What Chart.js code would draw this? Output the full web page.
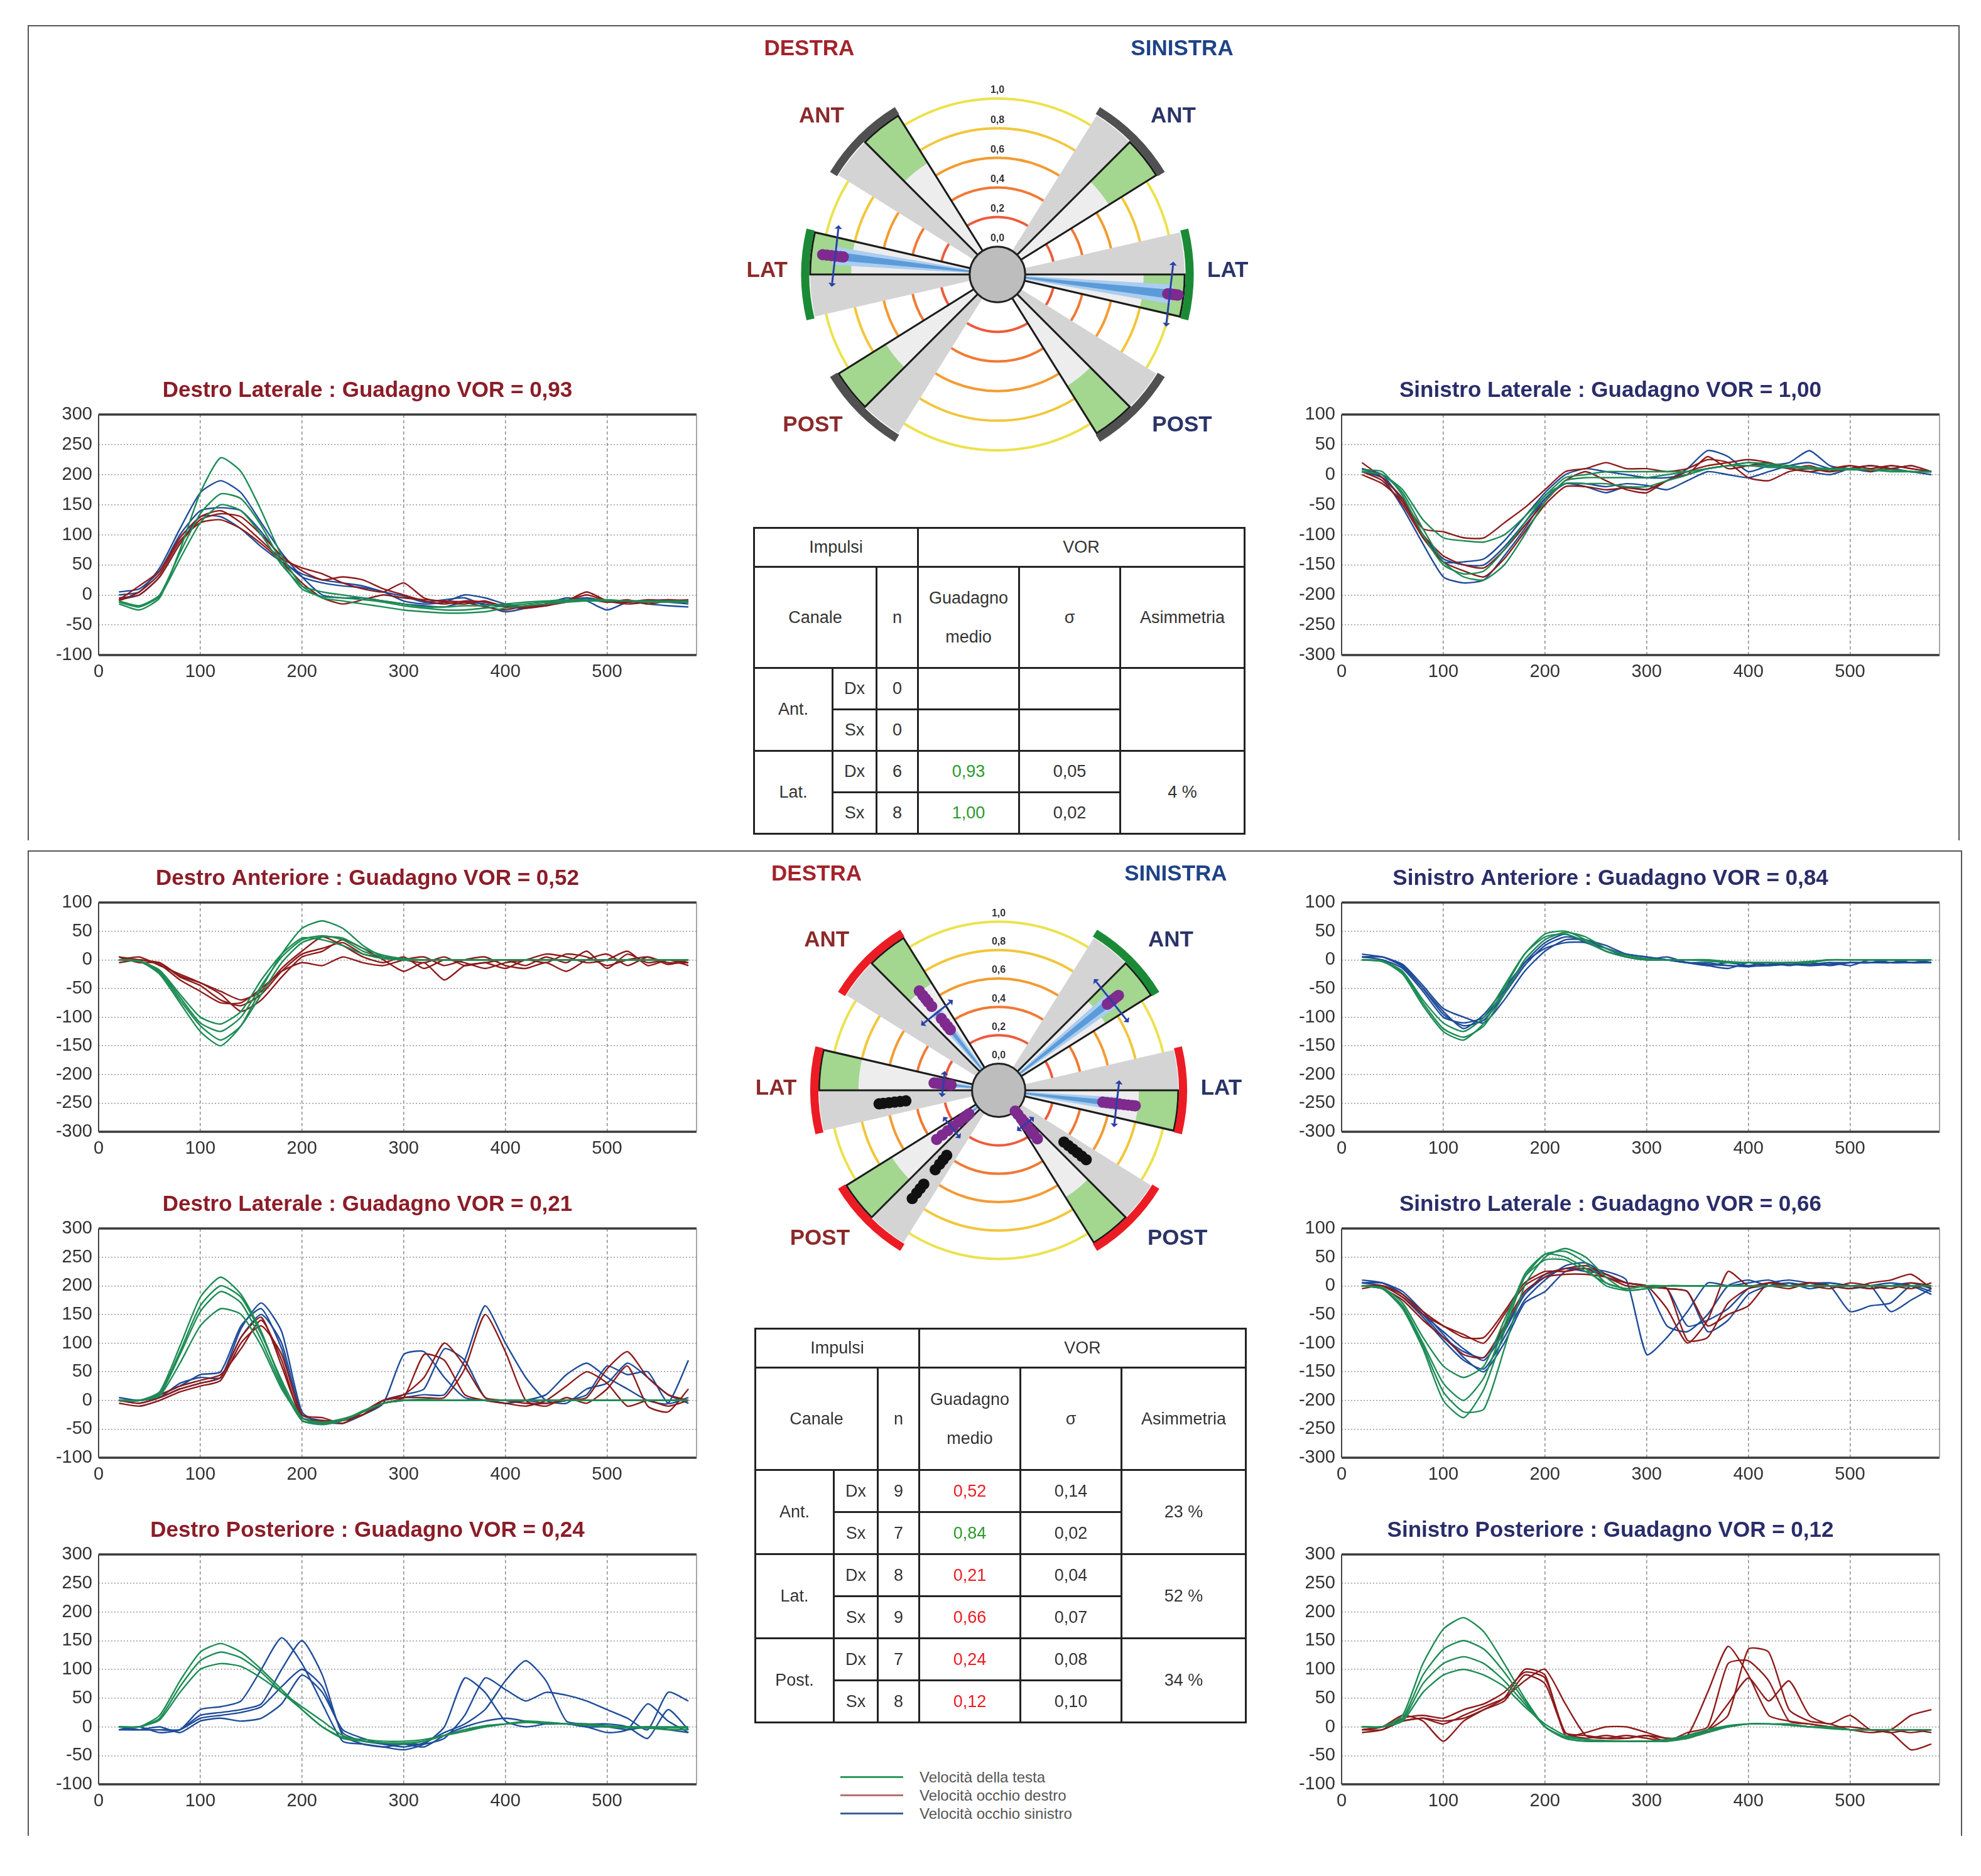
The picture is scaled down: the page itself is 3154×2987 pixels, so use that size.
<!DOCTYPE html>
<html>
<head>
<meta charset="utf-8">
<title>vHIT - Guadagno VOR</title>
<script src="https://cdn.jsdelivr.net/npm/chart.js@4.4.1/dist/chart.umd.min.js"></script>
<style>
  body { margin: 0; background: #fff; font-family: 'Liberation Sans', Arial, sans-serif; }
  #page { position: relative; width: 3154px; height: 2987px; overflow: hidden; background: #fff; }
  canvas { position: absolute; }
  .panel { position: absolute; border: 2px solid #555; border-bottom: none; }
  table.vor { position: absolute; border-collapse: collapse; table-layout: fixed; font-size: 27px; color: #333; }
  table.vor td { border: 3px solid #222; text-align: center; vertical-align: middle; padding: 0; }
  .legend { position: absolute; font-size: 24px; color: #555; }
  .legend div { height: 29px; line-height: 29px; position: relative; padding-left: 126px; white-space: nowrap; }
  .legend span { position: absolute; left: 0; top: 13px; width: 100px; height: 3px; }
</style>
</head>
<body>
<div id="page">
  <div class="panel" style="left:44px;top:40px;width:3072px;height:1296px"></div>
  <div class="panel" style="left:44px;top:1354px;width:3076px;height:1567px"></div>
  <div class="legend" style="left:1338px;top:2815px">
    <div><span style="background:#2e9a5c"></span>Velocità della testa</div>
    <div><span style="background:#b87070"></span>Velocità occhio destro</div>
    <div><span style="background:#3d5f9a"></span>Velocità occhio sinistro</div>
  </div>
</div>
<script>
// sample times (ms) shared by every trace
const times = [20,40,60,80,100,120,140,160,180,200,220,240,260,280,300,320,340,360,380,400,420,440,460,480,500,520,540,560,580];

// --- first test: Destro Laterale, gain 0,93
const latDxTopHead = [
  [-15,-25,-5,75,170,228,205,140,65,15, -5,-10,-15,-20,-25,-28,-30,-30,-28,-22, -18,-15,-12,-10,-10,-10,-12,-12,-12],
  [-10,-18,0,70,135,168,160,115,55,10, -3,-5,-8,-12,-18,-22,-25,-25,-22,-18, -15,-12,-10,-8,-8,-10,-10,-10,-10],
  [-12,-20,-2,60,120,150,140,100,50,15, 5,0,-5,-10,-15,-20,-20,-18,-18,-15, -12,-10,-8,-8,-10,-10,-10,-12,-12]
];
const latDxTopRight = [
  [-5,0,30,85,125,135,130,100,65,40, 25,30,25,10,0,-10,-15,-10,-12,-18, -20,-15,-10,0,-10,-12,-8,-10,-12],
  [-8,15,40,95,130,140,120,90,60,45, 35,20,10,5,20,-5,-12,-15,-10,-20, -22,-18,-12,-8,-12,-8,-15,-10,-8],
  [-10,5,35,90,120,125,110,85,55,20, -5,-15,-8,0,-5,-8,-10,-12,-20,-25, -18,-15,-10,5,-10,-15,-12,-8,-10]
];
const latDxTopLeft = [
  [0,5,45,110,170,190,170,120,70,30, 0,-5,-5,-10,-15,-18,-20,-12,-15,-20, -22,-15,-10,-5,-12,-10,-15,-18,-20],
  [5,10,40,100,140,145,140,105,60,30, 20,15,12,5,-10,-15,-12,0,-5,-15, -20,-18,-10,-5,-10,-12,-10,-8,-12],
  [-8,0,30,85,130,130,110,80,55,35, 25,20,15,5,-2,-12,-8,-5,-18,-28, -22,-15,-5,-10,-25,-12,-10,-12,-15]
];

// --- first test: Sinistro Laterale, gain 1,00
const latSxTopHead = [
  [5,0,-30,-90,-145,-170,-175,-150,-100,-45, -10,-5,-5,-5,-5,0,5,10,15,15, 15,12,10,10,10,8,8,5,5],
  [5,0,-25,-75,-105,-110,-112,-100,-70,-35, -5,0,5,5,5,5,5,10,15,15, 12,12,10,8,8,8,5,5,5],
  [8,5,-35,-100,-150,-165,-160,-125,-80,-35, -15,-15,-15,-20,-20,-10,0,10,15,20, 18,15,12,10,10,8,8,5,5]
];
const latSxTopRight = [
  [20,-5,-40,-90,-95,-105,-105,-80,-55,-25, 5,10,20,10,10,5,10,25,20,-5, -10,5,10,5,15,10,15,10,5],
  [0,-15,-45,-100,-135,-150,-155,-125,-85,-45, -10,5,-10,-25,-30,-10,0,30,10,15, 20,10,15,5,10,15,10,15,5],
  [5,-10,-50,-105,-145,-160,-170,-140,-95,-50, -20,-20,-25,-22,-25,-10,5,15,20,25, 20,10,5,10,15,5,15,10,5]
];
const latSxTopLeft = [
  [10,-5,-55,-115,-170,-180,-175,-135,-90,-40, -15,-20,-30,-20,-25,-10,10,40,30,5, 15,20,40,15,10,15,10,15,5],
  [5,-5,-40,-100,-145,-145,-140,-110,-70,-30, 0,10,5,0,-5,-5,0,10,15,20, 15,10,5,0,10,15,10,5,0],
  [10,0,-45,-100,-140,-150,-150,-120,-80,-40, -15,-15,-20,-15,-18,-25,-10,5,0,-5, 5,15,20,10,10,5,10,5,5]
];

// --- second test: Destro Anteriore, gain 0,52
const antDxHead = [
  [0,-2,-25,-75,-125,-150,-115,-50,10,55, 68,55,25,5,0,0,0,0,0,0, 0,0,0,0,0,0,0,0,0],
  [0,-2,-20,-65,-110,-125,-100,-45,5,35, 42,35,15,5,0,0,0,0,0,0, 0,0,0,0,0,0,0,0,0],
  [0,-3,-22,-70,-115,-140,-115,-60,-5,30, 40,38,20,8,2,0,0,0,0,0, 0,0,0,0,0,0,0,0,0],
  [0,-2,-18,-60,-100,-112,-90,-35,10,38, 35,25,10,2,0,0,0,0,0,0, 0,0,0,0,0,0,0,0,0]
];
const antDxRight = [
  [5,0,-5,-30,-45,-70,-80,-60,-20,10, 20,30,10,5,0,-5,5,-10,-5,-15, 0,-5,10,5,-10,0,5,-5,-5],
  [0,5,-10,-25,-40,-60,-90,-70,-30,5, 15,35,20,0,-20,-5,-35,-10,-5,0, -10,5,-5,15,-15,10,-5,0,-10],
  [-5,0,-8,-35,-55,-75,-75,-50,-20,-5, -10,5,-5,-10,0,5,-10,0,5,-10, -15,-5,-20,0,10,-10,5,-8,0],
  [5,-5,-5,-28,-40,-55,-70,-55,-15,15, 40,25,5,-5,5,-15,0,-5,-15,-5, 0,10,5,-5,0,15,-10,0,-5]
];

// --- second test: Destro Laterale, gain 0,21
const latDxBotHead = [
  [0,0,15,95,180,215,185,120,30,-35, -42,-35,-20,-5,0,0,0,0,0,0, 0,0,0,0,0,0,0,0,0],
  [0,0,10,80,155,190,170,105,25,-35, -40,-35,-20,-5,0,0,0,0,0,0, 0,0,0,0,0,0,0,0,0],
  [0,0,8,65,130,160,150,95,20,-30, -42,-35,-18,-5,0,2,0,0,0,0, 0,0,0,0,0,0,0,0,0],
  [0,0,12,85,165,200,180,115,35,-30, -38,-32,-20,-5,0,0,0,0,0,0, 0,0,0,0,0,0,0,0,0]
];
const latDxBotRight = [
  [0,-5,5,20,30,40,110,145,60,-30, -35,-35,-25,0,10,40,100,60,5,0, -5,-5,0,5,55,85,40,10,0],
  [-5,-10,0,15,25,35,100,130,80,-25, -30,-40,-20,0,5,5,5,55,150,85, 0,-10,5,-5,20,60,-10,-20,20],
  [0,0,10,25,35,45,90,140,70,-35, -40,-35,-25,-5,5,80,70,10,0,-5, -10,0,25,50,30,-10,0,-10,0]
];
const latDxBotLeft = [
  [0,-5,5,30,40,40,125,170,120,-20, -40,-35,-25,-5,80,85,40,5,0,-5, 0,10,45,65,40,20,0,-5,70],
  [5,0,10,25,45,50,130,160,90,-30, -38,-40,-25,0,10,20,90,70,5,-5, 0,-5,0,10,60,45,50,-5,5],
  [0,0,5,20,30,40,110,150,100,-25, -35,-35,-20,0,5,10,10,70,165,100, 40,0,-5,20,30,65,40,10,-5]
];

// --- second test: Destro Posteriore, gain 0,24
const postDxHead = [
  [0,0,20,80,130,145,130,100,65,30, 0,-20,-25,-28,-28,-25,-15,-5,2,5, 8,8,5,5,2,0,0,0,0],
  [0,0,15,70,115,130,120,95,60,30, 0,-18,-22,-25,-25,-22,-15,-5,0,5, 8,6,5,3,0,0,-2,-2,-2],
  [0,0,12,60,100,110,105,85,60,35, 10,-15,-25,-28,-30,-25,-15,-8,0,5, 10,8,5,5,0,-2,-2,-5,-5]
];
const postDxLeft = [
  [-5,-5,-5,-5,30,35,45,100,155,110, 40,-25,-30,-35,-40,-30,0,85,60,10, 0,5,5,0,0,-5,0,-5,-10],
  [-5,0,-10,-5,20,25,30,40,100,150, 90,-15,-30,-35,-30,-30,-20,20,85,65, 45,60,55,45,30,15,-5,60,45],
  [0,-5,-5,-5,15,20,25,35,70,100, 70,-10,-25,-30,-35,-28,-10,5,30,80, 115,80,10,5,5,0,-20,30,-5],
  [-5,-5,0,-10,10,15,10,15,40,90, 60,-5,-20,-30,-30,-35,-15,0,10,15, 10,5,5,0,-10,-5,40,10,-10]
];

// --- second test: Sinistro Anteriore, gain 0,84
const antSxHead = [
  [0,-2,-25,-80,-125,-140,-110,-50,10,45, 50,35,15,5,0,0,0,0,-5,-5, -5,-5,-5,0,0,0,0,0,0],
  [0,-2,-20,-70,-110,-125,-100,-45,10,40, 45,32,15,5,0,0,0,0,-3,-5, -5,-5,-3,0,0,0,0,0,0],
  [0,-3,-22,-75,-120,-135,-115,-60,0,35, 48,40,20,8,2,0,0,-2,-5,-5, -5,-5,-3,0,0,0,0,0,0]
];
const antSxLeft = [
  [5,5,-10,-50,-95,-115,-105,-60,-10,25, 40,35,25,10,5,0,-5,-10,-5,-10, -10,-5,-8,-5,-10,0,-5,-5,-5],
  [5,0,-15,-55,-100,-110,-100,-55,-5,30, 45,30,20,5,0,5,-5,-10,-15,-5, -10,-8,-10,-5,-5,-5,0,-5,-5],
  [10,5,-8,-45,-85,-100,-110,-70,-20,15, 35,35,20,10,5,0,-5,-5,-10,-10, -5,-10,-5,-10,-5,-5,-5,0,-5],
  [5,5,-12,-50,-90,-120,-95,-50,-5,20, 30,30,15,5,0,0,-5,-8,-10,-12, -8,-5,-10,-8,-5,-5,0,-5,0]
];

// --- second test: Sinistro Laterale, gain 0,66
const latSxBotHead = [
  [0,-5,-40,-110,-200,-230,-180,-80,15,55, 60,40,5,-5,0,0,0,0,0,0, 0,0,0,0,0,0,0,0,0],
  [0,-5,-35,-100,-170,-200,-160,-70,20,55, 50,30,0,-8,-5,0,0,0,0,0, 0,0,0,0,0,0,0,0,0],
  [0,-3,-30,-90,-140,-160,-140,-60,15,45, 45,25,5,-5,0,0,0,0,0,0, 0,0,0,0,0,0,0,0,0],
  [0,-5,-38,-105,-185,-220,-215,-110,0,50, 65,50,15,-8,-5,0,0,0,0,0, 0,0,0,0,0,0,0,0,0]
];
const latSxBotRight = [
  [0,0,-20,-50,-70,-85,-100,-50,0,20, 30,35,20,5,0,-40,-100,-60,25,0, 5,0,0,-5,5,0,-5,5,0],
  [0,-5,-25,-60,-90,-120,-125,-70,-10,15, 20,20,15,0,-2,-5,-10,-70,-50,-35, 5,0,5,0,-5,5,10,20,-5],
  [-5,0,-15,-45,-70,-90,-90,-45,5,25, 25,30,15,5,0,-5,-95,-90,-30,-5, 0,-5,5,0,0,-5,0,-5,5]
];
const latSxBotLeft = [
  [5,5,-15,-50,-80,-110,-130,-80,-15,20, 30,30,25,10,-120,-90,-45,5,0,5, 10,0,5,0,-45,-35,-30,0,-10],
  [5,0,-20,-55,-95,-130,-145,-90,-25,10, 35,40,20,5,0,-5,-70,-60,-40,-5, 5,10,5,5,0,0,-45,-25,-5],
  [5,5,-10,-45,-85,-125,-150,-100,-30,-10, 25,30,20,5,0,-5,-10,-80,-60,-15, 0,5,-5,0,-5,0,5,0,-15],
  [10,5,-15,-50,-90,-115,-125,-75,-15,15, 30,25,20,5,-2,-70,-80,-50,0,10, 0,5,0,5,0,-5,0,5,-5]
];

// --- second test: Sinistro Posteriore, gain 0,12
const postSxHead = [
  [0,0,20,110,170,190,165,110,50,0, -20,-25,-25,-25,-25,-25,-20,-10,0,5, 5,5,0,0,-5,-5,-5,-5,-5],
  [0,0,15,90,135,150,135,95,45,0, -20,-25,-25,-25,-25,-25,-18,-8,0,5, 5,3,0,-3,-5,-5,-5,-5,-5],
  [0,0,12,75,110,122,110,80,40,0, -18,-22,-24,-25,-25,-22,-15,-5,2,5, 5,3,0,-2,-5,-5,-5,-5,-5],
  [0,0,10,60,90,100,90,70,35,5, -15,-22,-25,-25,-25,-22,-15,-5,0,5, 5,3,0,-2,-5,-5,-5,-5,-5]
];
const postSxRight = [
  [-5,0,20,10,-25,10,30,50,100,90, -15,-10,0,0,-10,-20,-15,60,140,90, 20,10,5,0,0,-5,-10,-40,-30],
  [-10,-5,15,20,15,30,40,60,95,85, -10,-20,-15,-20,-15,-25,-10,0,110,115, 80,10,5,0,-5,-10,-5,20,30],
  [-5,-5,10,15,5,20,35,50,80,100, 40,-15,-20,-15,-20,-25,-15,-5,20,135, 130,30,10,5,-5,-5,-10,-5,-10],
  [-5,0,10,15,10,15,30,45,90,75, -10,-15,-20,-20,-15,-20,-20,-5,40,85, 45,80,20,5,20,-5,-5,-10,-5]
];

// --- polar diagrams
const canals = ['ANT', 'LAT', 'POST'];
const dxAngles = [135, 180, 225];     // right-ear canals drawn on the left
const sxAngles = [45, 0, -45];
const normLimit = [0.7, 0.8, 0.7];
const ringGains = [0.2, 0.4, 0.6, 0.8, 1.0];
const ringLabels = ['0,0', '0,2', '0,4', '0,6', '0,8', '1,0'];

const topDxGain = [null, 0.93, null];
const topSxGain = [null, 1.00, null];
const topDxImpulses = [[], [0.86, 0.88, 0.91, 0.94, 0.97, 1.0], []];
const topSxImpulses = [[], [0.97, 0.98, 0.99, 1.0, 1.01, 1.02, 1.03, 1.04], []];
const topDxStatus = ['none', 'ok', 'none'];
const topSxStatus = ['none', 'ok', 'none'];

const botDxGain = [0.52, 0.21, 0.24];
const botSxGain = [0.84, 0.66, 0.12];
const botDxImpulses = [[0.36, 0.39, 0.42, 0.46, 0.57, 0.61, 0.64, 0.67, 0.71], [0.15, 0.17, 0.19, 0.2, 0.22, 0.23, 0.25, 0.27], [0.08, 0.12, 0.17, 0.22, 0.27, 0.32, 0.37]];
const botSxImpulses = [[0.79, 0.81, 0.83, 0.84, 0.85, 0.87, 0.89], [0.55, 0.58, 0.61, 0.64, 0.67, 0.7, 0.73, 0.76, 0.78], [0.0, 0.03, 0.07, 0.1, 0.14, 0.18, 0.21, 0.25]];
const botDxSaccades = [[], [0.47, 0.51, 0.55, 0.59, 0.63, 0.66], [0.4, 0.44, 0.48, 0.53, 0.66, 0.7, 0.74, 0.79]];
const botSxSaccades = [[], [], [0.4, 0.44, 0.48, 0.52, 0.56, 0.6]];
const botDxStatus = ['bad', 'bad', 'bad'];
const botSxStatus = ['ok', 'bad', 'bad'];

// --- tables
const topRows = ['Ant.', 'Lat.'];
const topN = [[0, 0], [6, 8]];
const topGain = [[null, null], [0.93, 1.00]];
const topSigma = [[null, null], [0.05, 0.02]];
const topAsym = [null, 4];

const botRows = ['Ant.', 'Lat.', 'Post.'];
const botN = [[9, 7], [8, 9], [7, 8]];
const botGain = [[0.52, 0.84], [0.21, 0.66], [0.24, 0.12]];
const botSigma = [[0.14, 0.02], [0.04, 0.07], [0.08, 0.10]];
const botAsym = [23, 52, 34];

Chart.defaults.font.family = "'Liberation Sans', Arial, sans-serif";
Chart.defaults.color = '#333';

const HEAD = '#1d8c55', RIGHT = '#8e1b1b', LEFT = '#1f4c99';
const page = document.getElementById('page');

function makeCanvas(left, top, w, h) {
  const cv = document.createElement('canvas');
  cv.width = w; cv.height = h;
  cv.style.left = left + 'px'; cv.style.top = top + 'px';
  cv.style.width = w + 'px'; cv.style.height = h + 'px';
  page.appendChild(cv);
  return cv;
}

const framePlugin = {
  id: 'frame',
  afterDatasetsDraw(c) {
    const a = c.chartArea, g = c.ctx;
    g.save();
    g.strokeStyle = '#3a3a3a'; g.lineWidth = 3.5;
    g.beginPath();
    g.moveTo(a.left, a.top); g.lineTo(a.right, a.top);
    g.moveTo(a.left, a.bottom); g.lineTo(a.right, a.bottom);
    g.stroke();
    g.lineWidth = 2; g.strokeStyle = '#444';
    g.beginPath(); g.moveTo(a.left, a.top); g.lineTo(a.left, a.bottom); g.stroke();
    g.lineWidth = 1.5; g.strokeStyle = '#8a8a8a';
    g.beginPath(); g.moveTo(a.right, a.top); g.lineTo(a.right, a.bottom); g.stroke();
    g.restore();
  }
};

function traceChart(box, title, titleColor, yMin, yMax, groups) {
  const [l, t, r, b] = box;
  const cv = makeCanvas(l - 96, t - 75, r - l + 108, b - t + 125);
  const datasets = [];
  groups.forEach(([traces, color]) => traces.forEach(v => datasets.push({
    data: v.map((y, i) => ({ x: times[i], y })),
    borderColor: color, borderWidth: 2.4, pointRadius: 0, tension: 0.2, fill: false
  })));
  new Chart(cv, {
    type: 'line',
    data: { datasets },
    options: {
      responsive: false, animation: false, events: [],
      layout: { padding: { right: 12 } },
      plugins: {
        legend: { display: false }, tooltip: { enabled: false },
        title: { display: true, text: title, color: titleColor,
                 font: { size: 35, weight: 'bold' }, padding: { top: 16, bottom: 17 } }
      },
      scales: {
        x: { type: 'linear', min: 0, max: 588,
             ticks: { stepSize: 100, includeBounds: false, padding: 10, font: { size: 29 }, color: '#333' },
             grid: { color: '#8c8c8c', lineWidth: 1.5, drawTicks: false },
             border: { display: false, dash: [5, 4] },
             afterFit: s => { s.height = 50; } },
        y: { min: yMin, max: yMax,
             ticks: { stepSize: 50, padding: 10, font: { size: 29 }, color: '#333' },
             grid: { color: '#9a9a9a', lineWidth: 1.5, drawTicks: false },
             border: { display: false, dash: [2, 3] },
             afterFit: s => { s.width = 96; } }
      }
    },
    plugins: [framePlugin]
  });
}

const DX_T = '#8b1d28', SX_T = '#2a2d69';
traceChart([157, 660, 1109, 1043], 'Destro Laterale : Guadagno VOR = 0,93', DX_T, -100, 300,
  [[latDxTopHead, HEAD], [latDxTopRight, RIGHT], [latDxTopLeft, LEFT]]);
traceChart([2136, 660, 3088, 1043], 'Sinistro Laterale : Guadagno VOR = 1,00', SX_T, -300, 100,
  [[latSxTopHead, HEAD], [latSxTopRight, RIGHT], [latSxTopLeft, LEFT]]);
traceChart([157, 1437, 1109, 1802], 'Destro Anteriore : Guadagno VOR = 0,52', DX_T, -300, 100,
  [[antDxHead, HEAD], [antDxRight, RIGHT]]);
traceChart([157, 1956, 1109, 2321], 'Destro Laterale : Guadagno VOR = 0,21', DX_T, -100, 300,
  [[latDxBotHead, HEAD], [latDxBotRight, RIGHT], [latDxBotLeft, LEFT]]);
traceChart([157, 2475, 1109, 2841], 'Destro Posteriore : Guadagno VOR = 0,24', DX_T, -100, 300,
  [[postDxHead, HEAD], [postDxLeft, LEFT]]);
traceChart([2136, 1437, 3088, 1802], 'Sinistro Anteriore : Guadagno VOR = 0,84', SX_T, -300, 100,
  [[antSxHead, HEAD], [antSxLeft, LEFT]]);
traceChart([2136, 1956, 3088, 2321], 'Sinistro Laterale : Guadagno VOR = 0,66', SX_T, -300, 100,
  [[latSxBotHead, HEAD], [latSxBotRight, RIGHT], [latSxBotLeft, LEFT]]);
traceChart([2136, 2475, 3088, 2841], 'Sinistro Posteriore : Guadagno VOR = 0,12', SX_T, -100, 300,
  [[postSxHead, HEAD], [postSxRight, RIGHT]]);

// ---- polar "wheel" of the six canals
const R0 = 0.158, HALF = 13, RW = 1.065, RA = 1.093;
const rad = g => R0 + g * (1 - R0);
const statusColor = { none: '#505050', ok: '#1b8a36', bad: '#ec1c24' };
const ringColors = ['#ee5a3c', '#f07934', '#f39b31', '#f2c63a', '#ece24e'];

function polarPoints(lists, angles, off) {
  const out = [];
  lists.forEach((l, i) => l.forEach(g => {
    const a = (angles[i] + off) * Math.PI / 180;
    out.push({ x: rad(g) * Math.cos(a), y: rad(g) * Math.sin(a) });
  }));
  return out;
}

function wheelPlugin(cfg) {
  const A = d => -d * Math.PI / 180;
  const frame = c => {
    const sx = c.scales.x, sy = c.scales.y;
    const cx = sx.getPixelForValue(0), cy = sy.getPixelForValue(0);
    return { g: c.ctx, cx, cy, px: r => sx.getPixelForValue(r) - cx };
  };
  return {
    id: 'wheel',
    beforeDatasetsDraw(c) {
      const { g, cx, cy, px } = frame(c);
      g.save();
      ringGains.forEach((v, i) => {
        g.beginPath(); g.arc(cx, cy, px(rad(v)), 0, 2 * Math.PI);
        g.strokeStyle = ringColors[i]; g.lineWidth = 4; g.stroke();
      });
      const sector = (r1, r2, a1, a2, fill) => {
        g.beginPath();
        g.arc(cx, cy, px(r2), A(a2), A(a1));
        g.arc(cx, cy, px(r1), A(a1), A(a2), true);
        g.closePath(); g.fillStyle = fill; g.fill();
      };
      [[dxAngles, cfg.dxGain, cfg.dxStatus], [sxAngles, cfg.sxGain, cfg.sxStatus]].forEach(([angles, gains, status]) => {
        angles.forEach((c0, i) => {
          const cm = c0 - HALF / 2;
          sector(0, RW, c0, c0 + HALF, '#d4d4d4');
          sector(0, RW, c0 - HALF, c0, '#ededed');
          sector(rad(normLimit[i]), RW, c0 - HALF, c0, '#a3d68e');
          if (gains[i] != null) {
            sector(0, rad(gains[i]), cm - 3.2, cm + 3.2, '#aacdf0');
            sector(0, rad(gains[i]), cm - 1.5, cm + 1.5, '#5c9bd9');
          }
          g.beginPath(); g.moveTo(cx, cy);
          g.arc(cx, cy, px(RW), A(c0), A(c0 - HALF));
          g.closePath(); g.strokeStyle = '#1b1b1b'; g.lineWidth = 3; g.stroke();
          g.beginPath(); g.arc(cx, cy, px(RA), A(c0 + HALF + 0.5), A(c0 - HALF - 0.5));
          g.strokeStyle = statusColor[status[i]]; g.lineWidth = 13; g.stroke();
        });
      });
      g.beginPath(); g.arc(cx, cy, px(R0), 0, 2 * Math.PI);
      g.fillStyle = '#bdbdbd'; g.fill();
      g.strokeStyle = '#222'; g.lineWidth = 3; g.stroke();
      g.restore();
    },
    afterDatasetsDraw(c) {
      const { g, cx, cy, px } = frame(c);
      const P = (r, d) => [cx + px(r) * Math.cos(d * Math.PI / 180), cy - px(r) * Math.sin(d * Math.PI / 180)];
      g.save();
      g.strokeStyle = '#2a40a8'; g.fillStyle = '#2a40a8'; g.lineWidth = 3;
      [[dxAngles, cfg.dxGain], [sxAngles, cfg.sxGain]].forEach(([angles, gains]) => angles.forEach((c0, i) => {
        if (gains[i] == null) return;
        const r = rad(gains[i]);
        const p1 = P(r, c0 - HALF - 3), p2 = P(r, c0 + 3);
        g.beginPath(); g.moveTo(p1[0], p1[1]); g.lineTo(p2[0], p2[1]); g.stroke();
        const dx = p2[0] - p1[0], dy = p2[1] - p1[1], L = Math.hypot(dx, dy), ux = dx / L, uy = dy / L;
        [[p1, -1], [p2, 1]].forEach(([p, s]) => {
          g.beginPath();
          g.moveTo(p[0] + s * ux * 6, p[1] + s * uy * 6);
          g.lineTo(p[0] - uy * 6, p[1] + ux * 6);
          g.lineTo(p[0] + uy * 6, p[1] - ux * 6);
          g.closePath(); g.fill();
        });
      }));
      g.restore();
    },
    afterDraw(c) {
      const { g, cx, cy, px } = frame(c);
      g.save();
      g.textAlign = 'center'; g.textBaseline = 'middle';
      g.font = "bold 16px 'Liberation Sans', Arial, sans-serif"; g.fillStyle = '#333';
      ringLabels.forEach((t, i) => g.fillText(t, cx, cy - px(rad(i * 0.2)) - 13));
      cfg.labels.forEach(([t, x, y, col]) => {
        g.font = "bold 35px 'Liberation Sans', Arial, sans-serif"; g.fillStyle = col;
        g.fillText(t, cx + px(x), cy - px(y));
      });
      g.restore();
    }
  };
}

function polarChart(centerX, centerY, W, H, unit, cfg) {
  const cv = makeCanvas(centerX - W / 2, centerY - H / 2, W, H);
  const hx = W / 2 / unit, hy = H / 2 / unit;
  const impulses = polarPoints(cfg.dxImp, dxAngles, -HALF / 2).concat(polarPoints(cfg.sxImp, sxAngles, -HALF / 2));
  const saccades = polarPoints(cfg.dxSac, dxAngles, HALF / 2).concat(polarPoints(cfg.sxSac, sxAngles, HALF / 2));
  new Chart(cv, {
    type: 'scatter',
    data: { datasets: [
      { data: impulses, pointRadius: 9, backgroundColor: '#7e2a8e', borderWidth: 0 },
      { data: saccades, pointRadius: 9, backgroundColor: '#111', borderWidth: 0 }
    ] },
    options: {
      responsive: false, animation: false, events: [],
      layout: { padding: 0 },
      plugins: { legend: { display: false }, tooltip: { enabled: false } },
      scales: {
        x: { type: 'linear', display: false, min: -hx, max: hx },
        y: { type: 'linear', display: false, min: -hy, max: hy }
      }
    },
    plugins: [wheelPlugin(cfg)]
  });
}

const DX_L = '#8c2a2a', SX_L = '#2a3468';
polarChart(1588, 437, 900, 800, 285.7, {
  dxGain: topDxGain, sxGain: topSxGain, dxImp: topDxImpulses, sxImp: topSxImpulses,
  dxSac: [[], [], []], sxSac: [[], [], []], dxStatus: topDxStatus, sxStatus: topSxStatus,
  labels: [['DESTRA', -1.07, 1.28, '#a3232a'], ['SINISTRA', 1.05, 1.28, '#1e4387'],
           [canals[0], -1.0, 0.9, DX_L], [canals[0], 1.0, 0.9, SX_L],
           [canals[1], -1.31, 0.02, DX_L], [canals[1], 1.31, 0.02, SX_L],
           [canals[2], -1.05, -0.86, DX_L], [canals[2], 1.05, -0.86, SX_L]]
});
polarChart(1590, 1736, 900, 760, 274, {
  dxGain: botDxGain, sxGain: botSxGain, dxImp: botDxImpulses, sxImp: botSxImpulses,
  dxSac: botDxSaccades, sxSac: botSxSaccades, dxStatus: botDxStatus, sxStatus: botSxStatus,
  labels: [['DESTRA', -1.08, 1.28, '#a3232a'], ['SINISTRA', 1.05, 1.28, '#1e4387'],
           [canals[0], -1.02, 0.89, DX_L], [canals[0], 1.02, 0.89, SX_L],
           [canals[1], -1.32, 0.01, DX_L], [canals[1], 1.32, 0.01, SX_L],
           [canals[2], -1.06, -0.88, DX_L], [canals[2], 1.06, -0.88, SX_L]]
});

// ---- summary tables
const fmt = v => v == null ? '' : v.toFixed(2).replace('.', ',');
function vorTable(left, top, rowH, names, n, gain, sigma, asym) {
  const widths = [125, 70, 66, 161, 161, 198];
  let h = '<colgroup>' + widths.map(w => `<col style="width:${w}px">`).join('') + '</colgroup>';
  h += `<tr style="height:${rowH[0]}px"><td colspan="3">Impulsi</td><td colspan="3">VOR</td></tr>`;
  h += `<tr style="height:${rowH[1]}px"><td colspan="2">Canale</td><td>n</td><td style="line-height:62px">Guadagno<br>medio</td><td>σ</td><td>Asimmetria</td></tr>`;
  names.forEach((name, i) => {
    ['Dx', 'Sx'].forEach((side, k) => {
      const gv = gain[i][k];
      const col = gv == null ? '#333' : (gv >= normLimit[canals.indexOf(name.replace('.', '').toUpperCase())] ? '#2d9a2d' : '#ec1c24');
      h += `<tr style="height:${rowH[2]}px">`;
      if (k === 0) h += `<td rowspan="2">${name}</td>`;
      h += `<td>${side}</td><td>${n[i][k]}</td><td style="color:${col}">${fmt(gv)}</td><td>${fmt(sigma[i][k])}</td>`;
      if (k === 0) h += `<td rowspan="2">${asym[i] == null ? '' : asym[i] + ' %'}</td>`;
      h += '</tr>';
    });
  });
  const t = document.createElement('table');
  t.className = 'vor';
  t.style.left = left + 'px'; t.style.top = top + 'px';
  t.innerHTML = h;
  page.appendChild(t);
}
vorTable(1199, 839, [62, 161, 66], topRows, topN, topGain, topSigma, topAsym);
vorTable(1201, 2114, [62, 163, 67], botRows, botN, botGain, botSigma, botAsym);
</script>
</body>
</html>
